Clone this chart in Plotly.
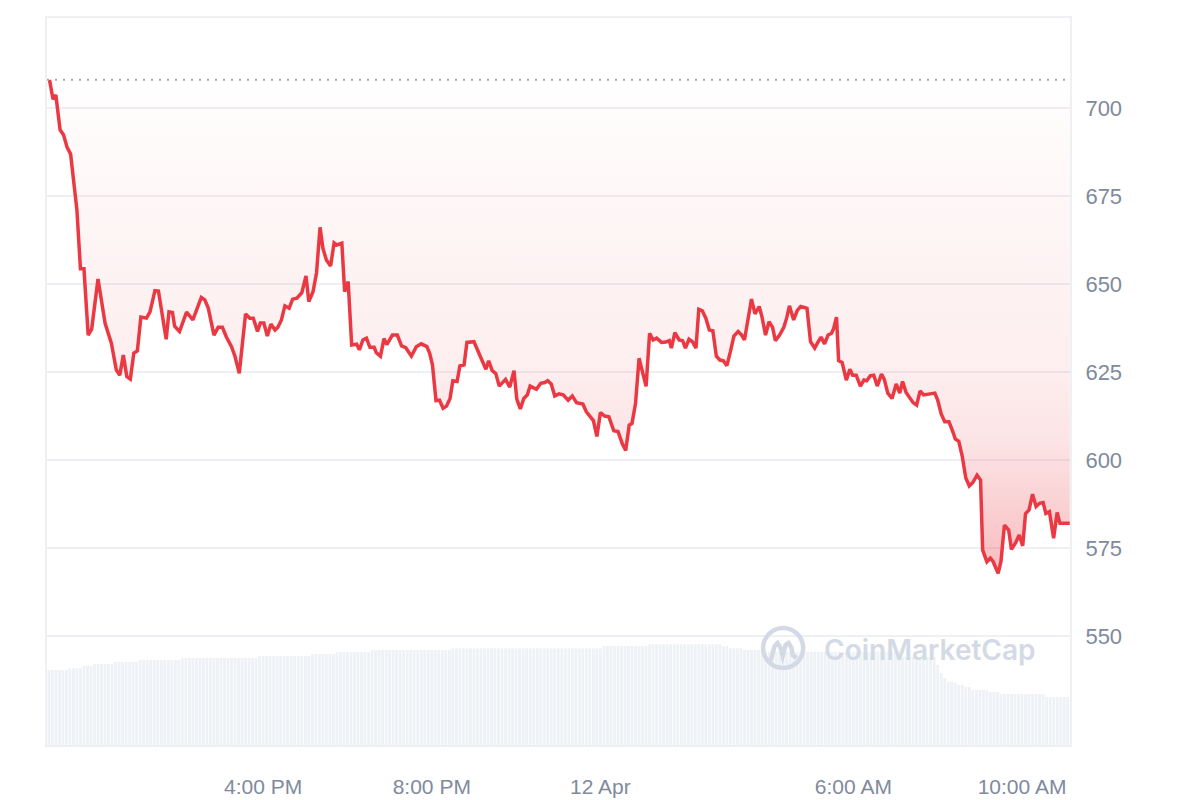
import numpy as np
import pandas as pd
import plotly.graph_objects as go

# ---------------- data ----------------
day0 = pd.Timestamp("2024-04-11 00:00")

# minutes after 11 Apr 00:00
minutes = [656,661,665,671,676,681,686,690,695,700,705,711,716,725,735,744,751,756,761,766,771,776,781,786,794,799,806,811,822,826,831,834,841,851,860,872,877,882,890,896,902,908,915,920,926,935,941,946,952,956,961,966,971,977,981,986,991,997,1002,1008,1015,1021,1025,1031,1036,1041,1045,1050,1056,1061,1065,1072,1076,1081,1086,1093,1097,1102,1107,1112,1118,1121,1127,1132,1136,1144,1151,1157,1163,1171,1178,1185,1193,1197,1201,1206,1211,1216,1221,1226,1230,1236,1240,1246,1250,1260,1267,1272,1277,1281,1286,1291,1296,1305,1311,1317,1321,1326,1331,1336,1340,1349,1355,1361,1365,1370,1375,1381,1387,1394,1400,1406,1412,1415,1420,1425,1430,1435,1440,1446,1452,1459,1465,1471,1476,1481,1485,1490,1495,1505,1510,1515,1520,1527,1533,1538,1541,1546,1552,1557,1561,1566,1571,1576,1580,1585,1590,1595,1600,1605,1610,1615,1620,1625,1630,1636,1641,1645,1650,1655,1660,1666,1670,1675,1680,1685,1689,1695,1701,1705,1709,1715,1720,1725,1729,1734,1739,1745,1750,1754,1759,1764,1769,1772,1776,1779,1784,1790,1795,1799,1804,1810,1815,1819,1824,1829,1834,1840,1844,1849,1855,1861,1866,1870,1875,1880,1885,1890,1895,1900,1907,1916,1920,1925,1930,1936,1942,1945,1950,1955,1960,1965,1970,1976,1981,1984,1990,1995,1999,2006,2010,2015,2021,2025,2031,2036,2041,2045,2050,2055,2060,2065,2070,2074,2079,2085,2090,2094,2103,2108]

price = [708.0,702.5,703.7,693.8,692.3,688.8,686.9,680.5,671.0,654.3,654.3,635.5,637.2,651.4,638.9,633.2,625.6,624.1,629.8,623.7,623.0,630.4,631.0,640.6,640.3,642.1,648.1,648.0,634.3,642.1,641.9,638.0,636.5,642.0,639.8,646.2,645.5,643.1,635.5,637.7,637.7,634.8,632.2,629.4,624.6,641.5,640.3,640.3,636.5,638.9,638.9,635.2,638.6,636.9,637.7,639.8,643.8,643.1,645.7,646.0,647.5,652.3,645.0,647.8,653.2,666.1,660.2,656.8,655.1,661.7,661.1,661.6,647.8,650.7,632.7,632.9,631.3,634.1,634.6,632.0,632.0,630.5,629.5,634.5,632.8,635.5,635.5,632.4,631.9,629.5,632.2,633.0,632.2,630.3,627.0,616.9,617.0,614.7,615.3,617.5,622.5,622.3,626.7,627.0,633.4,633.6,630.3,628.4,625.8,628.2,625.4,624.6,621.0,622.9,620.7,625.4,617.3,614.5,617.5,618.5,621.0,620.1,621.8,622.0,622.5,621.6,618.2,618.8,618.5,617.0,618.2,616.3,615.9,615.9,613.7,612.3,611.2,606.7,613.5,612.5,612.3,608.3,608.1,604.7,602.7,609.9,610.4,616.1,628.9,620.9,636.0,634.1,634.6,633.4,633.5,633.9,631.8,636.2,634.1,633.9,631.8,634.3,633.6,631.8,642.8,642.4,640.3,636.9,636.7,629.5,628.4,628.2,626.8,630.8,635.2,636.5,635.5,634.1,640.0,645.7,641.5,643.6,640.6,635.5,639.3,637.7,633.9,635.5,637.7,640.3,643.8,639.8,642.4,643.6,643.4,643.1,633.6,631.8,633.6,634.9,633.0,635.5,636.0,637.4,640.6,628.2,627.7,622.7,625.8,624.1,624.1,621.0,622.7,622.5,623.9,624.1,621.0,624.4,622.9,619.0,617.5,621.6,619.0,622.3,619.2,617.8,616.3,615.6,619.6,618.5,618.8,619.0,617.0,613.1,610.9,610.9,607.8,606.0,605.3,601.0,594.9,592.6,593.6,595.7,594.3,574.4,571.1,572.1,571.1,567.8,571.1,581.5,580.1,574.6,576.5,578.7,575.6,584.7,585.8,590.3,586.8,587.7,587.9,584.8,585.3,577.8,585.1,582.0,582.0,582.0]

# 24h volume (USD millions), piecewise levels: level holds until vol_end_min
vol_end_min = [682,704,718,748,783,844,952,1029,1063,1115,1228,1443,1507,1613,1624,1641,1671,1866,1920,1925,1930,1934,1942,1949,1956,1966,1975,1992,2010,2074,2115]
vol_level   = [1500,1534,1580,1620,1660,1700,1740,1780,1820,1860,1900,1934,1980,2014,1980,1934,1900,1866,1760,1600,1440,1340,1260,1240,1200,1160,1100,1100,1060,1020,960]

y_ticks = [550, 575, 600, 625, 650, 675, 700]
x_tick_min = [960, 1200, 1440, 1800, 2040]
x_tick_text = ["4:00 PM", "8:00 PM", "12 Apr", "6:00 AM", "10:00 AM"]

assert len(minutes) == len(price), (len(minutes), len(price))

# ---------------- build ----------------
t = day0 + pd.to_timedelta(minutes, unit="min")
bar_min = np.arange(655, 2108, 5)
bar_t = day0 + pd.to_timedelta(bar_min, unit="min")
bar_v = np.array(vol_level)[np.searchsorted(vol_end_min, bar_min, side="right")]

open_price = price[0]
RED = "#EA3943"
GRID = "#EEF0F3"
TXT = "#808A9D"

fig = go.Figure()

fig.add_trace(go.Bar(x=bar_t, y=bar_v, yaxis="y2", marker=dict(color="#EEF1F5", line=dict(width=0)),
                     hoverinfo="skip", showlegend=False))

fig.add_trace(go.Scatter(x=t, y=[open_price] * len(t), mode="lines", line=dict(width=0),
                         hoverinfo="skip", showlegend=False))
fig.add_trace(go.Scatter(
    x=t, y=price, mode="lines", line=dict(color=RED, width=3.5),
    fill="tonexty",
    fillgradient=dict(type="vertical", start=min(price), stop=open_price,
                      colorscale=[[0.0, "rgba(234,57,67,0.34)"],
                                  [0.13, "rgba(234,57,67,0.24)"],
                                  [0.28, "rgba(234,57,67,0.13)"],
                                  [0.42, "rgba(234,57,67,0.085)"],
                                  [0.75, "rgba(234,57,67,0.045)"],
                                  [0.93, "rgba(234,57,67,0.015)"],
                                  [1.0, "rgba(234,57,67,0.0)"]]),
    showlegend=False))

fig.add_hline(y=open_price, line=dict(color="#A4AAB6", width=2, dash="2px,6px"), layer="above")

# watermark
L, R, B, T = 47, 1070.5, 745, 18
def px(x, y):
    return (x - L) / (R - L), (B - y) / (B - T)

cx, cy = px(783.5, 648)
rx = 20 / (R - L)
ry = 20 / (B - T)
WM = "#D3DAE6"
fig.add_shape(type="circle", xref="paper", yref="paper", x0=cx - rx, x1=cx + rx, y0=cy - ry, y1=cy + ry,
              line=dict(color=WM, width=4.5), layer="above")
m_pts = [(771, 661), (775, 646), (778, 643), (781, 648), (783, 656), (786, 645), (789, 643), (792, 648), (793, 655), (797, 658)]
path = "M " + " L ".join("{:.5f},{:.5f}".format(*px(x, y)) for x, y in m_pts)
fig.add_shape(type="path", xref="paper", yref="paper", path=path, line=dict(color=WM, width=4.5), layer="above")
ax, ay = px(822, 650)
fig.add_annotation(xref="paper", yref="paper", x=ax, y=ay, xanchor="left", yanchor="middle",
                   text="CoinMarketCap", showarrow=False,
                   font=dict(family="Inter, Noto Sans, sans-serif", size=28, color=WM, weight=600))

fig.update_layout(
    width=1200, height=800,
    margin=dict(l=L, r=1200 - R, t=T, b=800 - B),
    paper_bgcolor="white", plot_bgcolor="white",
    bargap=0.22,
    font=dict(family="Liberation Sans, Arial, sans-serif", size=22, color=TXT),
    xaxis=dict(type="date", automargin=False,
               range=[day0 + pd.Timedelta(minutes=652.4), day0 + pd.Timedelta(minutes=2108.3)],
               tickvals=[day0 + pd.Timedelta(minutes=m) for m in x_tick_min], ticktext=x_tick_text,
               tickfont=dict(size=21),
               showgrid=False, zeroline=False, ticks="", ticklabelstandoff=22,
               showline=True, linecolor=GRID, linewidth=2, mirror=True),
    yaxis=dict(side="right", automargin=False, range=[519.03, 725.57], tickvals=y_ticks,
               showgrid=True, gridcolor=GRID, gridwidth=1.5, zeroline=False,
               ticks="", ticklabelstandoff=9,
               showline=True, linecolor=GRID, linewidth=2, mirror=True),
    yaxis2=dict(overlaying="y", range=[0, 14540], visible=False, showgrid=False),
    hovermode=False,
)

fig.write_html("out.html", config={"displayModeBar": False},
               post_script="document.body.style.margin='0';")
